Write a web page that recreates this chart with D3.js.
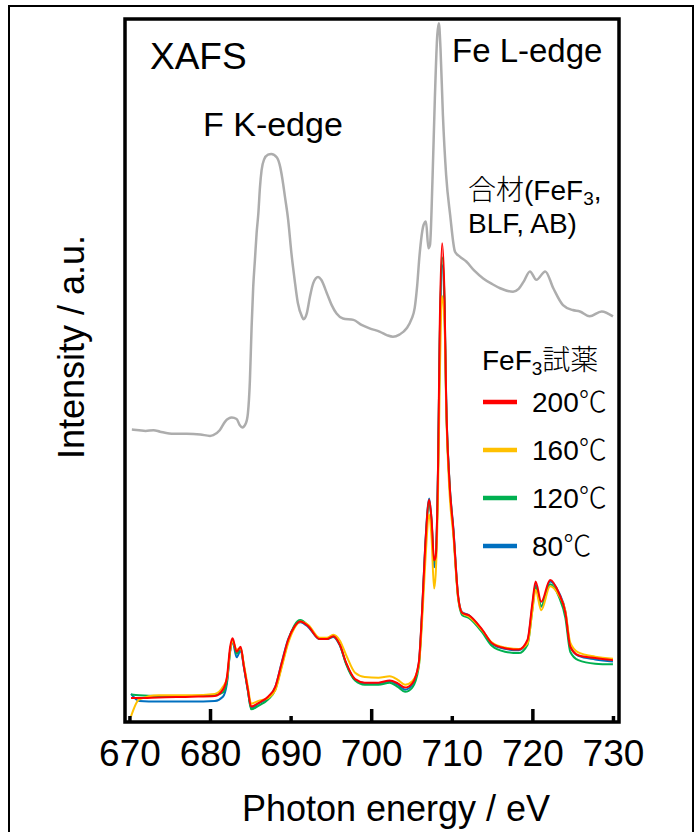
<!DOCTYPE html>
<html>
<head>
<meta charset="utf-8">
<script src="https://cdn.jsdelivr.net/npm/d3@7"></script>
<style>
  body { margin: 0; background: #fff; }
  svg { display: block; font-family: "Liberation Sans", Arial, sans-serif; }
</style>
</head>
<body>
<div class="xafs"></div>
<script>
// x axis tick labels (eV)
const xTicks = [670, 680, 690, 700, 710, 720, 730];

// composite electrode (FeF3, BLF, AB) – grey trace
const grayEnergy = [670.3, 671.2, 672.0, 673.0, 673.8, 675.5, 677.1, 678.8, 680.0, 680.4,
  681.2, 681.85, 682.7, 683.3, 683.7, 684.0, 684.45, 684.7, 684.95, 685.16,
  685.36, 685.57, 685.78, 686.0, 686.2, 686.4, 686.7, 687.2, 687.6, 688.3,
  688.7, 689.0, 689.3, 689.7, 690.1, 690.5, 690.9, 691.4, 691.6, 692.0,
  692.4, 692.8, 693.4, 693.8, 694.5, 695.1, 695.7, 696.5, 697.8, 698.8,
  699.8, 701.1, 702.0, 702.7, 703.5, 704.4, 705.0, 705.4, 705.7, 706.0,
  706.5, 706.8, 707.1, 707.3, 707.6, 707.9, 708.2, 708.4, 708.6, 708.9,
  709.3, 709.8, 710.4, 711.0, 711.8, 712.8, 713.9, 715.0, 716.0, 717.6,
  718.3, 718.9, 719.7, 720.5, 721.6, 722.6, 723.8, 725.0, 725.9, 727.1,
  728.6, 730.0];
const grayIntensity = [41.6, 41.5, 41.4, 41.5, 41.3, 41.0, 41.0, 40.9, 40.7, 40.8,
  41.5, 42.7, 43.3, 43.1, 42.2, 41.9, 42.5, 43.9, 48.6, 56.2,
  61.9, 65.7, 69.5, 72.4, 76.1, 78.5, 80.0, 80.7, 80.8, 80.3,
  79.0, 77.1, 74.7, 71.4, 66.7, 62.9, 59.6, 57.7, 57.3, 58.1,
  60.5, 62.4, 63.3, 62.9, 61.0, 59.3, 58.1, 57.4, 57.2, 56.5,
  56.0, 55.5, 55.0, 54.8, 55.1, 56.0, 57.3, 58.9, 62.0, 66.4,
  70.7, 71.2, 67.4, 67.9, 76.9, 88.7, 97.7, 99.4, 95.8, 86.3,
  77.8, 72.1, 66.9, 66.2, 65.5, 64.2, 63.1, 62.3, 61.7, 61.2,
  61.6, 62.6, 64.1, 62.9, 64.1, 61.7, 59.3, 58.6, 58.4, 57.7,
  58.4, 57.7];

// FeF3 reagent, heat treated
const feEnergy = [670.2, 671.2, 673.6, 677.7, 680.6, 681.6, 682.1, 682.5, 682.8, 683.3, 683.8, 684.2, 684.7,
  685.1, 686.0, 687.2, 688.1, 688.9, 689.7, 690.5, 691.2, 692.2, 693.6, 694.5, 695.3, 696.1,
  696.9, 698.0, 699.2, 700.9, 702.3, 703.3, 704.2, 705.1, 705.9, 706.3, 706.7, 707.2, 707.5,
  707.8, 708.0, 708.3, 708.5, 708.8, 709.1, 709.3, 709.7, 710.2, 710.8, 711.3, 712.1, 713.8,
  715.0, 716.6, 718.3, 719.4, 720.0, 720.4, 721.1, 722.2, 723.3, 724.1, 724.7, 725.7, 727.8, 730.0];
const fe200 = [3.4, 3.4, 3.5, 3.6, 3.7, 4.6, 6.4, 10.7, 11.9, 10.0, 10.7, 7.9, 4.6,
  2.2, 2.7, 3.6, 5.0, 8.4, 11.7, 13.6, 14.3, 13.6, 11.8, 11.8, 12.2, 11.0,
  8.4, 6.1, 5.6, 5.6, 5.9, 5.5, 4.9, 5.5, 8.4, 15.5, 24.9, 31.6, 28.7,
  23.0, 23.5, 36.8, 55.8, 68.1, 60.5, 46.3, 34.4, 27.3, 17.8, 15.5, 15.2, 13.1,
  11.2, 10.5, 10.3, 11.7, 16.9, 20.0, 17.1, 20.2, 18.3, 15.5, 10.7, 9.5, 9.1, 8.8];
const fe160 = [0.8, 3.2, 3.8, 3.8, 4.0, 5.0, 6.2, 10.2, 11.5, 10.3, 10.5, 8.2, 5.0,
  2.6, 3.0, 3.4, 4.5, 7.8, 11.2, 13.4, 14.3, 13.8, 12.0, 12.0, 12.4, 11.6,
  9.5, 7.0, 6.4, 6.3, 6.5, 6.0, 5.3, 5.8, 8.0, 14.0, 22.5, 29.5, 26.0,
  19.0, 21.0, 33.0, 48.0, 60.6, 57.0, 45.0, 33.0, 26.5, 17.5, 15.5, 15.0, 13.0,
  11.3, 10.6, 10.4, 11.2, 15.8, 18.8, 15.9, 19.3, 18.0, 15.8, 11.3, 9.9, 9.3, 9.0];
const fe120 = [3.9, 3.8, 3.7, 3.7, 3.8, 4.2, 5.8, 10.2, 11.6, 9.7, 10.5, 8.0, 4.5,
  1.8, 2.3, 3.2, 4.6, 8.0, 11.5, 13.8, 14.5, 13.7, 11.8, 11.8, 12.2, 11.0,
  8.2, 5.9, 5.3, 5.3, 5.6, 5.0, 4.3, 4.9, 7.8, 15.0, 24.5, 31.2, 28.3,
  22.8, 23.3, 36.0, 54.0, 66.1, 60.0, 46.0, 34.3, 27.0, 17.5, 15.2, 14.8, 12.7,
  10.8, 10.0, 9.8, 11.0, 16.0, 19.2, 16.5, 19.6, 17.8, 14.8, 10.0, 8.8, 8.3, 8.2];
const fe80 = [4.0, 3.0, 2.9, 2.9, 3.0, 3.6, 5.5, 10.0, 11.4, 9.2, 10.2, 7.8, 4.4,
  2.0, 2.6, 3.5, 5.0, 8.5, 11.8, 13.6, 14.2, 13.5, 11.8, 11.8, 12.1, 10.9,
  8.3, 6.0, 5.5, 5.5, 5.8, 5.3, 4.6, 5.3, 8.3, 15.3, 25.0, 31.8, 28.5,
  22.0, 23.2, 36.5, 53.5, 65.0, 58.5, 46.0, 34.5, 27.5, 17.8, 15.6, 15.2, 13.0,
  11.1, 10.4, 10.2, 11.5, 16.5, 19.5, 16.4, 20.0, 18.4, 15.7, 10.8, 9.4, 8.9, 8.6];
const temps = [200, 160, 120, 80];

function drawXafs() {
  let margin = { top: 19, right: 79, bottom: 110, left: 125 };
  let width = 698 - margin.left - margin.right;
  let height = 832 - margin.top - margin.bottom;

  const colors = ['#ff0000', '#ffc000', '#00b050', '#0070c0'];
  const series = [fe200, fe160, fe120, fe80].map(function (vals, i) {
    return { temp: temps[i], color: colors[i], values: vals };
  });

  let xScale = d3.scaleLinear().domain([669.45, 730.75]).range([0, width]);
  let yScale = d3.scaleLinear().domain([0, 100]).range([height, 0]);

  let root = d3
    .select('.xafs')
    .append('svg')
    .attr('width', 698)
    .attr('height', 832);

  // outer picture border
  root
    .append('rect')
    .attr('x', 9)
    .attr('y', 6)
    .attr('width', 684)
    .attr('height', 840)
    .attr('fill', 'none')
    .attr('stroke', '#000')
    .attr('stroke-width', 2);

  let svg = root.append('g').attr('transform', `translate(${margin.left}, ${margin.top})`);

  let line = d3
    .line()
    .x(function (d) {
      return xScale(d[0]);
    })
    .y(function (d) {
      return yScale(d[1]);
    })
    .curve(d3.curveMonotoneX);

  svg
    .append('path')
    .datum(d3.zip(grayEnergy, grayIntensity))
    .attr('fill', 'none')
    .attr('stroke', '#adadad')
    .attr('stroke-width', 2.5)
    .attr('d', line);

  // 80C drawn first, 200C on top
  svg
    .selectAll('.fe')
    .data(series.slice().reverse())
    .enter()
    .append('path')
    .attr('class', 'fe')
    .attr('fill', 'none')
    .attr('stroke', function (d) {
      return d.color;
    })
    .attr('stroke-width', 2)
    .attr('d', function (d) {
      return line(d3.zip(feEnergy, d.values));
    });

  // frame
  svg
    .append('rect')
    .attr('width', width)
    .attr('height', height)
    .attr('fill', 'none')
    .attr('stroke', '#000')
    .attr('stroke-width', 3.5);

  let xAxis = svg
    .append('g')
    .attr('transform', `translate(0,${height})`)
    .call(d3.axisBottom(xScale).tickValues(xTicks).tickSize(0).tickPadding(18).tickFormat(d3.format('d')));
  xAxis.select('.domain').remove();
  xAxis
    .selectAll('.tick line')
    .attr('stroke', '#000')
    .attr('stroke-width', 3.5)
    .attr('y2', function (d) {
      return d % 20 === 0 ? -13 : -6;
    });
  xAxis.selectAll('.tick text').attr('fill', '#000').style('font-size', '37px').style('font-family', '"Liberation Sans", Arial, sans-serif');

  root
    .append('text')
    .attr('x', 396)
    .attr('y', 821)
    .attr('text-anchor', 'middle')
    .style('font-size', '36px')
    .text('Photon energy / eV');

  root
    .append('text')
    .attr('transform', 'translate(84, 347) rotate(-90)')
    .attr('text-anchor', 'middle')
    .style('font-size', '36px')
    .text('Intensity / a.u.');

  // annotations
  root.append('text').attr('x', 150).attr('y', 69).style('font-size', '37px').text('XAFS');
  root.append('text').attr('x', 203).attr('y', 136).style('font-size', '34px').text('F K-edge');
  root.append('text').attr('x', 452).attr('y', 62).style('font-size', '33px').text('Fe L-edge');

  let cjk = '"Noto Sans CJK JP", sans-serif';
  let mix = root.append('text').attr('x', 468).attr('y', 200).style('font-size', '28px');
  mix.append('tspan').style('font-family', cjk).style('font-weight', 300).text('合材');
  mix.append('tspan').text('(FeF');
  mix.append('tspan').attr('dy', 5).style('font-size', '19px').text('3');
  mix.append('tspan').attr('dy', -5).text(',');
  root.append('text').attr('x', 468).attr('y', 233).style('font-size', '28px').text('BLF, AB)');

  // legend
  let title = root.append('text').attr('x', 482).attr('y', 370).style('font-size', '28px');
  title.append('tspan').text('FeF');
  title.append('tspan').attr('dy', 5).style('font-size', '19px').text('3');
  title.append('tspan').attr('dy', -5).style('font-family', cjk).style('font-weight', 300).text('試薬');

  let legend = root
    .selectAll('.legend')
    .data(series)
    .enter()
    .append('g')
    .attr('class', 'legend')
    .attr('transform', function (d, i) {
      return `translate(483, ${402 + i * 48})`;
    });
  legend
    .append('line')
    .attr('x1', 0)
    .attr('x2', 34)
    .attr('stroke', function (d) {
      return d.color;
    })
    .attr('stroke-width', 4.5);
  let lt = legend.append('text').attr('x', 49).attr('y', 10).style('font-size', '28px');
  lt.append('tspan').text(function (d) {
    return d.temp;
  });
  lt.append('tspan').style('font-family', cjk).style('font-weight', 300).text('℃');
}

drawXafs();
</script>
</body>
</html>
